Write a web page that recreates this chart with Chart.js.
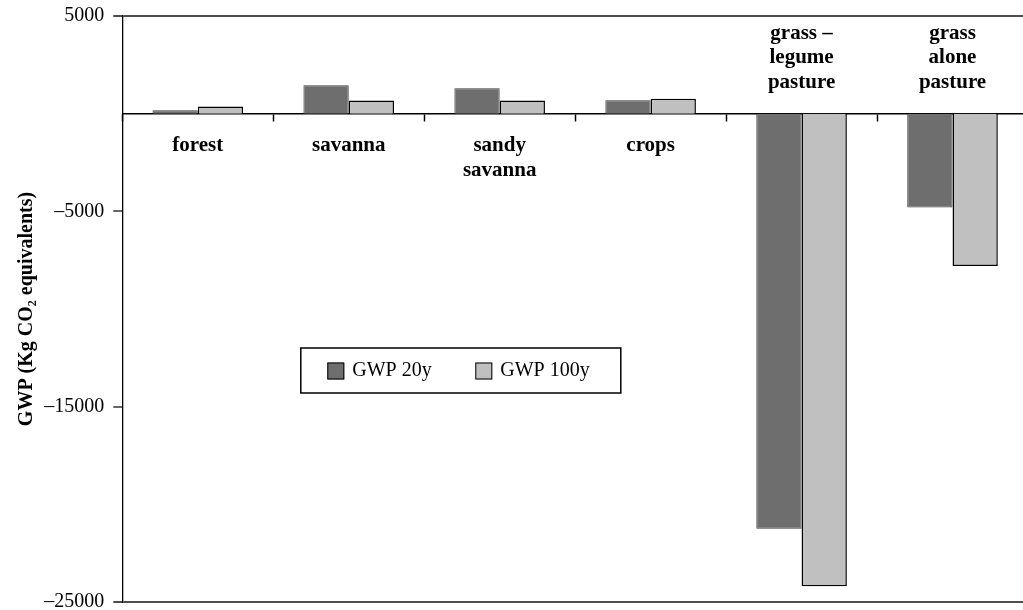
<!DOCTYPE html>
<html>
<head>
<meta charset="utf-8">
<script src="https://cdn.jsdelivr.net/npm/chart.js@4/dist/chart.umd.min.js"></script>
<style>
  html, body { margin: 0; padding: 0; background: #fff; overflow: hidden; }
  #wrap { width: 1023px; height: 610px; overflow: hidden; }
</style>
</head>
<body>
<div id="wrap"><canvas id="myChart" width="1030" height="620"></canvas></div>
<script>
// categories (multi-line labels as arrays)
const categories = ['forest', 'savanna', ['sandy', 'savanna'], 'crops',
    ['grass \u2013', 'legume', 'pasture'], ['grass', 'alone', 'pasture']]
const seriesNames = ['GWP 20y', 'GWP 100y']
const gwp20 = [180, 1450, 1300, 690, -21250, -4800]
const gwp100 = [370, 680, 680, 760, -24200, -7800]
const yTicks = [5000, -5000, -15000, -25000]

const serif = "'Liberation Serif', 'Times New Roman', serif"
const darkGrey = '#6e6e6e'
const lightGrey = '#c0c0c0'
const frameGrey = '#4d4d4d'

//************ étiquettes des catégories (au-dessus ou en dessous de zéro) ************//
const categoryLabels = {
    id: 'categoryLabels',
    afterDatasetsDraw(chart) {
        const ctx = chart.ctx
        const x = chart.scales.x
        const y = chart.scales.y
        const zeroY = y.getPixelForValue(0)
        ctx.save()
        ctx.font = 'bold 21px ' + serif
        ctx.fillStyle = '#000'
        ctx.textAlign = 'center'
        ctx.textBaseline = 'middle'
        categories.forEach((cat, i) => {
            const lines = Array.isArray(cat) ? cat : [cat]
            const cx = x.getPixelForValue(i)
            const negative = Math.max(gwp20[i], gwp100[i]) < 0
            let startY = negative ? chart.chartArea.top + 17.5 : zeroY + 32
            lines.forEach((line, j) => {
                ctx.fillText(line, cx, startY + j * 24.5)
            })
        })
        ctx.restore()
    }
}

//************ légende dans la zone du graphique ************//
const boxLegend = {
    id: 'boxLegend',
    afterDraw(chart) {
        const ctx = chart.ctx
        const area = chart.chartArea
        const bx = area.left + 178.5
        const by = area.top + 332
        const bw = 320
        const bh = 45
        ctx.save()
        ctx.strokeStyle = '#000'
        ctx.lineWidth = 1.5
        ctx.strokeRect(bx, by, bw, bh)
        ctx.font = '20px ' + serif
        ctx.textBaseline = 'middle'
        ctx.fillStyle = '#000'
        const colors = [darkGrey, lightGrey]
        const offsets = [26.5, 174.5]
        seriesNames.forEach((name, i) => {
            const sx = bx + offsets[i]
            const sy = by + 14.5
            ctx.fillStyle = colors[i]
            ctx.fillRect(sx, sy, 17, 17)
            ctx.lineWidth = 1
            ctx.strokeRect(sx + 0.5, sy + 0.5, 16, 16)
            ctx.fillStyle = '#000'
            ctx.fillText(name, sx + 25, sy + 8.5)
        })
        ctx.restore()
    }
}

function isFrame(v) {
    return v === 5000 || v === -25000
}

const ctx = document.getElementById('myChart')
const myChart = new Chart(ctx, {
    type: 'bar',
    data: {
        labels: categories,
        datasets: [
            { label: seriesNames[0], data: gwp20, backgroundColor: darkGrey,
              borderColor: '#3c3c3c', borderWidth: 1 },
            { label: seriesNames[1], data: gwp100, backgroundColor: lightGrey,
              borderColor: '#000', borderWidth: 1.5 }
        ]
    },
    options: {
        responsive: false,
        animation: false,
        devicePixelRatio: 1,
        layout: { padding: { left: 0, top: 16, right: 2, bottom: 18 } },
        datasets: { bar: { categoryPercentage: 0.6, barPercentage: 1 } },
        plugins: { legend: { display: false }, tooltip: { enabled: false } },
        scales: {
            x: {
                position: { y: 0 },
                offset: true,
                ticks: { display: false },
                grid: { offset: true, drawOnChartArea: false, drawTicks: true,
                        tickLength: 7, tickColor: '#000', tickWidth: 1.5 },
                border: { display: true, color: '#000', width: 1.5 },
                afterFit: (scale) => {
                    scale.paddingLeft = 0; scale.paddingRight = 0
                    scale.paddingTop = 0; scale.paddingBottom = 0
                }
            },
            y: {
                min: -25000,
                max: 5000,
                afterBuildTicks: (scale) => {
                    scale.ticks = yTicks.map(v => ({ value: v }))
                },
                afterFit: (scale) => {
                    scale.width = 122.3
                    scale.paddingTop = 0; scale.paddingBottom = 0
                },
                ticks: {
                    padding: 9,
                    color: '#000',
                    font: { family: serif, size: 20 },
                    callback: (v) => v < 0 ? '\u2013' + Math.abs(v) : String(v)
                },
                grid: {
                    drawTicks: true,
                    tickLength: 9,
                    color: (c) => isFrame(c.tick && c.tick.value) ? frameGrey : 'rgba(0,0,0,0)',
                    lineWidth: 2,
                    tickColor: (c) => isFrame(c.tick && c.tick.value) ? frameGrey : '#000',
                    tickWidth: (c) => isFrame(c.tick && c.tick.value) ? 2 : 1.2
                },
                border: { display: true, color: '#000', width: 1.3 },
                title: {
                    display: true,
                    text: 'GWP (Kg CO\u2082 equivalents)',
                    color: '#000',
                    font: { family: serif, size: 20, weight: 'bold' },
                    padding: { top: 15, bottom: 0 }
                }
            }
        }
    },
    plugins: [categoryLabels, boxLegend]
})
</script>
</body>
</html>
